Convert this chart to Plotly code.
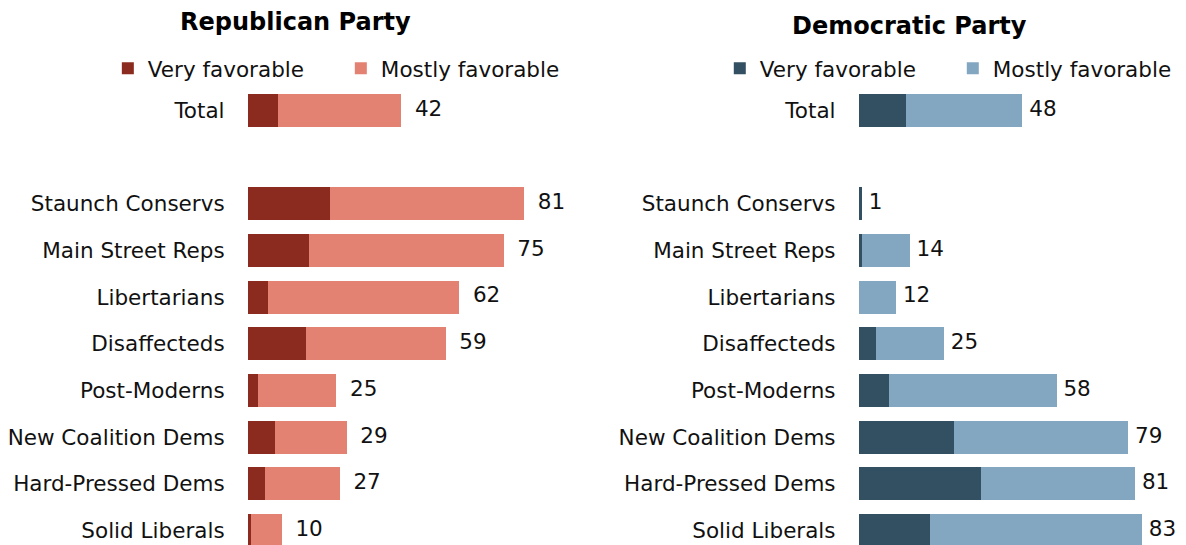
import plotly.graph_objects as go

categories = ["Total", " ", "Staunch Conservs", "Main Street Reps", "Libertarians",
              "Disaffecteds", "Post-Moderns", "New Coalition Dems",
              "Hard-Pressed Dems", "Solid Liberals"]

rep_very = [9, None, 24, 18, 6, 17, 3, 8, 5, 1]
rep_mostly = [36, None, 57, 57, 56, 41, 23, 21, 22, 9]
rep_total = [42, None, 81, 75, 62, 59, 25, 29, 27, 10]

dem_very = [14, None, 1, 1, 0, 5, 9, 28, 36, 21]
dem_mostly = [34, None, 0, 14, 11, 20, 49, 51, 45, 62]
dem_total = [48, None, 1, 14, 12, 25, 58, 79, 81, 83]

REP_VERY_C = "#8B2A1E"
REP_MOSTLY_C = "#E38273"
DEM_VERY_C = "#334F62"
DEM_MOSTLY_C = "#84A7C1"

FONT = "DejaVu Sans, Verdana, sans-serif"
FS = 21.5


def end_of(a, b):
    return [None if (x is None or y is None) else x + y for x, y in zip(a, b)]


def labels(vals, pad):
    return [None if v is None else pad + str(v) for v in vals]


fig = go.Figure()

fig.add_trace(go.Bar(x=rep_very, y=categories, orientation="h", name="Very favorable",
                     marker=dict(color=REP_VERY_C, line=dict(width=0)),
                     xaxis="x", yaxis="y", legend="legend"))
fig.add_trace(go.Bar(x=rep_mostly, y=categories, orientation="h", name="Mostly favorable",
                     marker=dict(color=REP_MOSTLY_C, line=dict(width=0)),
                     xaxis="x", yaxis="y", legend="legend"))
fig.add_trace(go.Scatter(x=end_of(rep_very, rep_mostly), y=categories, mode="text",
                         text=labels(rep_total, "  "), textposition="middle right",
                         textfont=dict(size=FS, color="#111111", family=FONT),
                         cliponaxis=False, showlegend=False, hoverinfo="skip",
                         xaxis="x", yaxis="y"))

fig.add_trace(go.Bar(x=dem_very, y=categories, orientation="h", name="Very favorable",
                     marker=dict(color=DEM_VERY_C, line=dict(width=0)),
                     xaxis="x2", yaxis="y2", legend="legend2"))
fig.add_trace(go.Bar(x=dem_mostly, y=categories, orientation="h", name="Mostly favorable",
                     marker=dict(color=DEM_MOSTLY_C, line=dict(width=0)),
                     xaxis="x2", yaxis="y2", legend="legend2"))
fig.add_trace(go.Scatter(x=end_of(dem_very, dem_mostly), y=categories, mode="text",
                         text=labels(dem_total, " "), textposition="middle right",
                         textfont=dict(size=FS, color="#111111", family=FONT),
                         cliponaxis=False, showlegend=False, hoverinfo="skip",
                         xaxis="x2", yaxis="y2"))

# page body has an 8px margin; figure coordinates are page coordinates minus 8
OFF = 8
W, H = 1186 - OFF, 545 - OFF
TOP = 86.7 - OFF
plot_h = H - TOP
PX_PER_UNIT = 3.42

xcommon = dict(range=[0, 90], showgrid=False, zeroline=False, showticklabels=False,
               showline=False, ticks="", fixedrange=True)
ycommon = dict(type="category", categoryorder="array", categoryarray=categories,
               range=[9.31, -0.5], showgrid=False, zeroline=False, showline=False,
               ticks="", ticklabelstandoff=22,
               tickfont=dict(size=FS, color="#111111", family=FONT), fixedrange=True)

legend_common = dict(orientation="h", xanchor="left", yanchor="middle",
                      font=dict(size=FS, color="#111111", family=FONT),
                      bgcolor="rgba(0,0,0,0)", entrywidth=188, entrywidthmode="pixels",
                      traceorder="normal", itemclick=False, itemdoubleclick=False)

left0 = 247 - OFF
right0 = 859 - OFF

fig.update_layout(
    width=W, height=H,
    barmode="stack", bargap=0.293,
    plot_bgcolor="white", paper_bgcolor="white",
    margin=dict(l=0, r=0, t=TOP, b=0, pad=0),
    font=dict(family=FONT, size=FS, color="#111111"),
    xaxis=dict(domain=[left0 / W, (left0 + 90 * PX_PER_UNIT) / W], anchor="y", **xcommon),
    yaxis=dict(domain=[0, 1], anchor="x", **ycommon),
    xaxis2=dict(domain=[right0 / W, (right0 + 90 * PX_PER_UNIT) / W], anchor="y2", **xcommon),
    yaxis2=dict(domain=[0, 1], anchor="x2", **ycommon),
    legend=dict(x=99 / W, y=1 + (TOP - (68 - OFF)) / plot_h, **legend_common),
    legend2=dict(x=712 / W, y=1 + (TOP - (68 - OFF)) / plot_h, **legend_common),
    showlegend=True,
    annotations=[
        dict(text="<b>Republican Party</b>", x=(295 - OFF) / W, y=1 + (TOP - (22 - OFF)) / plot_h,
             xref="paper", yref="paper", xanchor="center", yanchor="middle",
             showarrow=False, font=dict(size=24, color="#000000", family=FONT)),
        dict(text="<b>Democratic Party</b>", x=(910 - OFF) / W, y=1 + (TOP - (26 - OFF)) / plot_h,
             xref="paper", yref="paper", xanchor="center", yanchor="middle",
             showarrow=False, font=dict(size=24, color="#000000", family=FONT)),
    ],
)

fig.write_html("out.html")
